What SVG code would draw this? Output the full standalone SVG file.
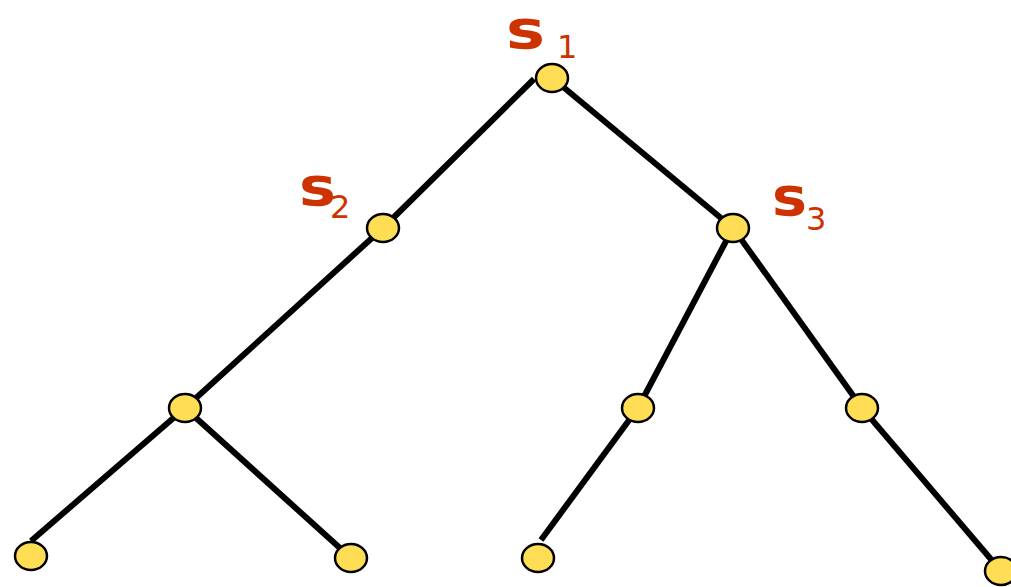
<svg xmlns="http://www.w3.org/2000/svg" width="1011" height="587" viewBox="0 0 1011 587">
<style>
.e{stroke:#000;stroke-width:6;fill:none;stroke-linecap:butt}
.n{fill:#ffdd55;stroke:#000;stroke-width:2.5}
.l{fill:#cc3300;font-family:"DejaVu Sans",sans-serif;font-weight:bold}
.s{font-size:54px}
.sub{font-size:32px;font-weight:normal}
</style>
<rect width="1011" height="587" fill="#fff"/>
<g id="edges">
<line class="e" x1="534" y1="79" x2="383" y2="228"/>
<line class="e" x1="562" y1="86" x2="733" y2="228"/>
<line class="e" x1="383" y1="228" x2="185" y2="408"/>
<line class="e" x1="733" y1="228" x2="638" y2="408"/>
<line class="e" x1="733" y1="228" x2="862" y2="408"/>
<line class="e" x1="185" y1="408" x2="31" y2="541"/>
<line class="e" x1="185" y1="408" x2="351" y2="558"/>
<line class="e" x1="638" y1="408" x2="541" y2="540"/>
<line class="e" x1="862" y1="408" x2="1001" y2="571"/>
</g>
<g id="s1"><ellipse class="n" cx="552" cy="78" rx="16" ry="14"/>
<text class="l s" x="506" y="48" textLength="39" lengthAdjust="spacingAndGlyphs">s</text><text class="l sub" x="557" y="58">1</text></g>
<g id="s2"><ellipse class="n" cx="383" cy="228" rx="16" ry="14"/>
<text class="l s" x="299" y="205" textLength="37" lengthAdjust="spacingAndGlyphs">s</text><text class="l sub" x="330" y="218">2</text></g>
<g id="s3"><ellipse class="n" cx="733" cy="228" rx="16" ry="14"/>
<text class="l s" x="772" y="215" textLength="35" lengthAdjust="spacingAndGlyphs">s</text><text class="l sub" x="806" y="230">3</text></g>
<g id="n4"><ellipse class="n" cx="185" cy="408" rx="16" ry="14"/></g>
<g id="n5"><ellipse class="n" cx="638" cy="408" rx="16" ry="14"/></g>
<g id="n6"><ellipse class="n" cx="862" cy="408" rx="16" ry="14"/></g>
<g id="n7"><ellipse class="n" cx="31" cy="556" rx="16" ry="14"/></g>
<g id="n8"><ellipse class="n" cx="351" cy="558" rx="16" ry="14"/></g>
<g id="n9"><ellipse class="n" cx="538" cy="558" rx="16" ry="14"/></g>
<g id="n10"><ellipse class="n" cx="1001" cy="571" rx="16" ry="14"/></g>
</svg>
